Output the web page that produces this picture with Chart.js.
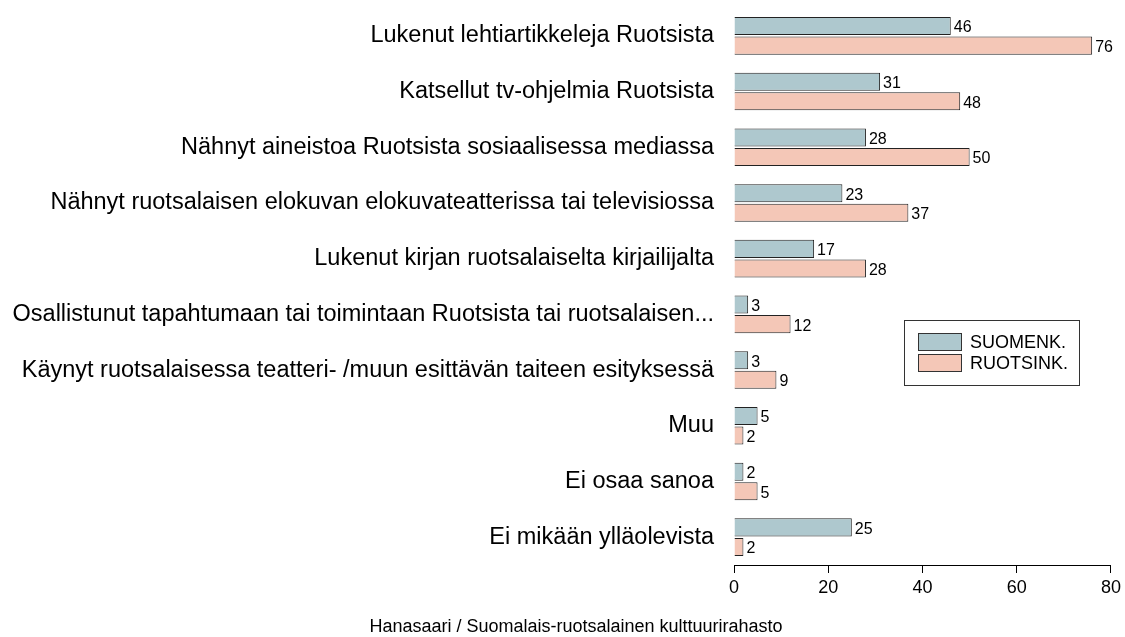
<!DOCTYPE html>
<html>
<head>
<meta charset="utf-8">
<script src="https://cdn.jsdelivr.net/npm/chart.js@4"></script>
<style>
  html, body { margin: 0; padding: 0; background: #fff; }
  #wrap { width: 1125px; height: 637px; }
</style>
</head>
<body>
<div id="wrap"><canvas id="chart"></canvas></div>
<script>
const categories = [
  'Lukenut lehtiartikkeleja Ruotsista',
  'Katsellut tv-ohjelmia Ruotsista',
  'Nähnyt aineistoa Ruotsista sosiaalisessa mediassa',
  'Nähnyt ruotsalaisen elokuvan elokuvateatterissa tai televisiossa',
  'Lukenut kirjan ruotsalaiselta kirjailijalta',
  'Osallistunut tapahtumaan tai toimintaan Ruotsista tai ruotsalaisen...',
  'Käynyt ruotsalaisessa teatteri- /muun esittävän taiteen esityksessä',
  'Muu',
  'Ei osaa sanoa',
  'Ei mikään ylläolevista'
];
const suomenk = [46, 31, 28, 23, 17, 3, 3, 5, 2, 25];
const ruotsink = [76, 48, 50, 37, 28, 12, 9, 2, 5, 2];
const xTicks = [0, 20, 40, 60, 80];
const footer = 'Hanasaari / Suomalais-ruotsalainen kulttuurirahasto';

const FONT = 'Arial, "Liberation Sans", sans-serif';

// numbers at the end of each bar
const valueLabels = {
  id: 'valueLabels',
  afterDatasetsDraw(chart) {
    const ctx = chart.ctx;
    ctx.save();
    ctx.font = '16px ' + FONT;
    ctx.fillStyle = '#000';
    ctx.textAlign = 'left';
    ctx.textBaseline = 'middle';
    chart.data.datasets.forEach((ds, i) => {
      chart.getDatasetMeta(i).data.forEach((bar, j) => {
        ctx.fillText(ds.data[j], bar.x + 3, bar.y + 2);
      });
    });
    ctx.restore();
  }
};

// boxed legend inside the plot area + source line at the bottom
const boxLegend = {
  id: 'boxLegend',
  afterDraw(chart) {
    const ctx = chart.ctx;
    const x = 904, y = 320, w = 175, h = 65;
    ctx.save();
    ctx.strokeStyle = '#333';
    ctx.lineWidth = 1;
    ctx.strokeRect(x + 0.5, y + 0.5, w, h);
    ctx.font = '18px ' + FONT;
    ctx.textBaseline = 'middle';
    chart.data.datasets.forEach((ds, i) => {
      const sy = y + 13 + i * 21;
      ctx.fillStyle = ds.backgroundColor;
      ctx.fillRect(x + 14.5, sy + 0.5, 43, 17);
      ctx.strokeStyle = '#333';
      ctx.strokeRect(x + 14.5, sy + 0.5, 43, 17);
      ctx.fillStyle = '#000';
      ctx.fillText(ds.label, x + 66, sy + 10);
    });

    ctx.font = '18px ' + FONT;
    ctx.textAlign = 'center';
    ctx.fillText(footer, 576, 627);
    ctx.restore();
  }
};

new Chart(document.getElementById('chart'), {
  type: 'bar',
  data: {
    labels: categories,
    datasets: [
      { label: 'SUOMENK.', data: suomenk, backgroundColor: '#aec8ce', borderColor: '#222', borderWidth: 1, barPercentage: 0.923, categoryPercentage: 0.703 },
      { label: 'RUOTSINK.', data: ruotsink, backgroundColor: '#f4c7b7', borderColor: '#222', borderWidth: 1, barPercentage: 0.923, categoryPercentage: 0.703 }
    ]
  },
  options: {
    indexAxis: 'y',
    responsive: true,
    maintainAspectRatio: false,
    animation: false,
    layout: { padding: { top: 8, right: 13, left: 0, bottom: 32 } },
    plugins: {
      legend: { display: false },
      tooltip: { enabled: false },
      title: { display: false }
    },
    scales: {
      x: {
        min: 0,
        max: 80,
        afterBuildTicks: s => { s.ticks = xTicks.map(v => ({ value: v })); },
        afterFit: s => { s.height = 40; },
        border: { display: true, color: '#000', width: 1 },
        grid: { display: true, drawOnChartArea: false, drawTicks: true, tickLength: 8, color: '#000' },
        ticks: { color: '#000', font: { family: FONT, size: 18 }, padding: 4 }
      },
      y: {
        afterFit: s => { s.width = 734; s.paddingTop = 0; s.paddingBottom = 0; },
        border: { display: false },
        grid: { display: false },
        ticks: { color: '#000', font: { family: FONT, size: 23.5 }, padding: 12, autoSkip: false }
      }
    }
  },
  plugins: [valueLabels, boxLegend]
});
</script>
</body>
</html>
